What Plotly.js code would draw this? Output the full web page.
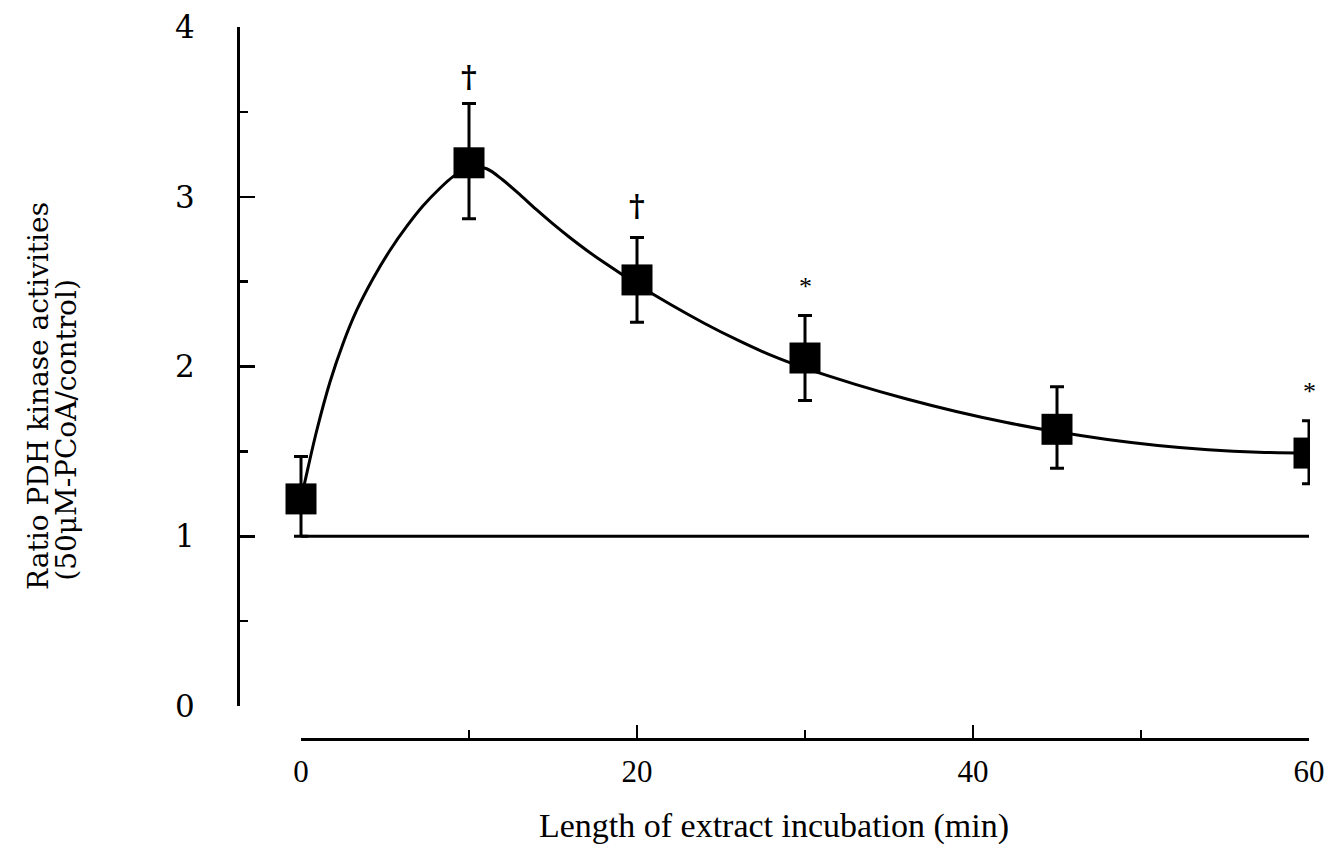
<!DOCTYPE html>
<html>
<head>
<meta charset="utf-8">
<script src="https://cdn.plot.ly/plotly-3.0.1.min.js"></script>
<style>html,body{margin:0;padding:0;background:#fff;}</style>
</head>
<body>
<div id="chart" style="width:1330px;height:851px;"></div>
<script>
// Data
const timeMin = [0, 10, 20, 30, 45, 60];
const ratioMean = [1.22, 3.20, 2.51, 2.05, 1.63, 1.49];
const ratioUpper = [1.47, 3.55, 2.76, 2.30, 1.88, 1.68];
const ratioLower = [1.00, 2.87, 2.26, 1.80, 1.40, 1.31];

// Fitted curve as drawn in the figure
const curveX = [0, 0.24, 0.93, 1.73, 2.52, 3.31, 4.30, 5.30, 6.29, 7.28, 8.27, 9.07, 10.1, 11.05, 12, 13, 14, 15, 16, 17, 18, 20, 22, 24, 26, 28, 30, 33, 36, 39, 42, 45, 48, 51, 54, 57, 60];
const curveY = [1.22, 1.325, 1.62, 1.91, 2.14, 2.33, 2.52, 2.685, 2.825, 2.948, 3.05, 3.12, 3.18, 3.165, 3.10, 3.015, 2.925, 2.84, 2.76, 2.685, 2.615, 2.485, 2.365, 2.255, 2.155, 2.065, 1.99, 1.895, 1.81, 1.735, 1.67, 1.615, 1.57, 1.535, 1.51, 1.495, 1.49];

// Control reference line (ratio = 1)
const controlX = [0, 60];
const controlY = [1, 1];

// Significance marks
const sigX = [10, 20, 30, 60];
const sigY = [3.71, 2.95, 2.47, 1.85];
const sigText = ['†', '†', '*', '*'];

// Axis ticks
const xTickVals = [0, 20, 40, 60];
const yTickVals = [0, 1, 2, 3, 4];

const errPlus = ratioUpper.map((u, i) => u - ratioMean[i]);
const errMinus = ratioMean.map((m, i) => m - ratioLower[i]);

const SERIF = 'Liberation Serif, Times New Roman, serif';
const SLAB = 'DejaVu Serif, serif';

// ---- pixel geometry of the frame ----
const W = 1330, H = 851;
const mL = 238, mR = 20, mT = 27, mB = 112;
const paperW = W - mL - mR, paperH = H - mT - mB;
const px0 = 301, px60 = 1309;      // x = 0 and x = 60
const py0 = 706, py4 = 27;         // y = 0 and y = 4
const pxPerX = (px60 - px0) / 60;
const pxPerY = (py0 - py4) / 4;
const bottomPx = H - mB;
const title1Center = 396, title2Center = 430;
const dTop = 2 * (bottomPx - title1Center) / paperH;
const dTop3 = 2 * (bottomPx - title2Center) / paperH;
const topPx = bottomPx - dTop * paperH;
const topPx3 = bottomPx - dTop3 * paperH;

const xDataRange = [-(px0 - mL) / pxPerX, 60 + ((W - mR) - px60) / pxPerX];
const yDataRange = [-(bottomPx - py0) / pxPerY, (py0 - topPx) / pxPerY];
const yDataRange3 = [-(bottomPx - py0) / pxPerY, (py0 - topPx3) / pxPerY];

const traces = [
  {
    x: controlX, y: controlY, xaxis: 'x2', yaxis: 'y2', mode: 'lines', type: 'scatter',
    line: {color: '#000', width: 3}, hoverinfo: 'skip', showlegend: false
  },
  {
    x: curveX, y: curveY, xaxis: 'x', yaxis: 'y3', mode: 'lines', type: 'scatter',
    line: {color: '#000', width: 3, shape: 'spline', smoothing: 1},
    hoverinfo: 'skip', showlegend: false
  },
  {
    x: timeMin, y: ratioMean, xaxis: 'x', yaxis: 'y', mode: 'markers', type: 'scatter',
    marker: {symbol: 'square', size: 31, color: '#000'},
    error_y: {type: 'data', symmetric: false, array: errPlus, arrayminus: errMinus,
              color: '#000', thickness: 3, width: 7},
    showlegend: false
  }
];

const annotations = sigX.map((x, i) => ({
  x: x, y: sigY[i], xref: 'x', yref: 'y', text: sigText[i], showarrow: false,
  font: sigText[i] === '†'
    ? {family: SLAB, size: 30, weight: 'bold', color: '#000'}
    : {family: SERIF, size: 26, color: '#000'},
  yanchor: 'middle', xanchor: 'center'
}));

const hiddenAxis = {
  showline: false, showgrid: false, zeroline: false, ticks: '', showticklabels: false
};

const layout = {
  width: W, height: H,
  margin: {l: mL, r: mR, t: mT, b: mB},
  paper_bgcolor: '#fff', plot_bgcolor: 'rgba(0,0,0,0)',
  showlegend: false,
  font: {family: SERIF, color: '#000'},
  // data axes (invisible scales carrying the titles)
  xaxis: Object.assign({
    domain: [0, 1], range: xDataRange, anchor: 'y',
    title: {text: 'Length of extract incubation (min)', font: {family: SERIF, size: 34, color: '#000'}, standoff: 74}
  }, hiddenAxis),
  yaxis: Object.assign({
    domain: [0, dTop], range: yDataRange, anchor: 'x',
    title: {text: 'Ratio PDH kinase activities', font: {family: SLAB, size: 28, color: '#000'}, standoff: 180}
  }, hiddenAxis),
  yaxis3: Object.assign({
    domain: [0, dTop3], range: yDataRange3, anchor: 'x',
    title: {text: '(50μM-PCoA/control)', font: {family: SLAB, size: 28, color: '#000'}, standoff: 152}
  }, hiddenAxis),
  // visible axes
  xaxis2: {
    domain: [(px0 - mL) / paperW, (px60 - mL) / paperW],
    anchor: 'free', position: 0,
    range: [0, 60], tickvals: xTickVals, ticktext: xTickVals.map(String),
    showgrid: false, zeroline: false,
    showline: true, linecolor: '#000', linewidth: 3,
    ticks: 'inside', ticklen: 13, tickwidth: 2.5, tickcolor: '#000',
    minor: {dtick: 10, tick0: 0, ticks: 'inside', ticklen: 8, tickwidth: 2.5, tickcolor: '#000', showgrid: false},
    tickfont: {family: SERIF, size: 31, color: '#000'},
    ticklabelstandoff: 4
  },
  yaxis2: {
    domain: [(bottomPx - py0) / paperH, (bottomPx - py4) / paperH],
    anchor: 'free', position: 0,
    range: [0, 4], tickvals: yTickVals, ticktext: yTickVals.map(String),
    showgrid: false, zeroline: false,
    showline: true, linecolor: '#000', linewidth: 3,
    ticks: 'inside', ticklen: 15, tickwidth: 2.5, tickcolor: '#000',
    minor: {dtick: 0.5, tick0: 0, ticks: 'inside', ticklen: 8, tickwidth: 2.5, tickcolor: '#000', showgrid: false},
    tickfont: {family: SLAB, size: 31, color: '#000'},
    ticklabelstandoff: 36
  },
  annotations: annotations
};

Plotly.newPlot('chart', traces, layout, {displayModeBar: false, staticPlot: true});
</script>
</body>
</html>
